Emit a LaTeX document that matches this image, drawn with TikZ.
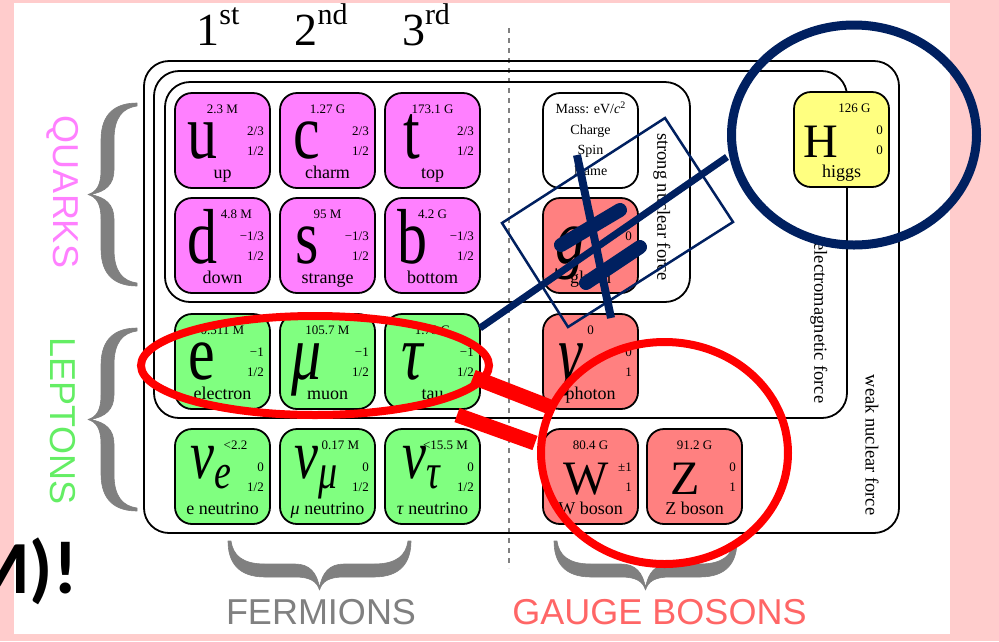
\documentclass[tikz,border=0pt]{standalone}
\usepackage{fontspec}
\usepackage{graphicx}
\setmainfont{Liberation Serif}
\newfontfamily\sansf{Liberation Sans}
\newfontfamily\calib{Carlito}
\definecolor{pinkbg}{RGB}{255,204,204}
\definecolor{quarkfill}{RGB}{255,128,255}
\definecolor{leptonfill}{RGB}{128,255,128}
\definecolor{gaugefill}{RGB}{255,128,128}
\definecolor{higgsfill}{RGB}{255,255,128}
\definecolor{quarkslbl}{RGB}{255,128,255}
\definecolor{leptonslbl}{RGB}{100,238,100}
\definecolor{bracegray}{RGB}{128,128,128}
\definecolor{gaugelbl}{RGB}{255,102,102}
\definecolor{navy}{RGB}{0,32,96}
\definecolor{markred}{RGB}{255,0,0}
\newcommand\fs[1]{\fontsize{#1}{#1}\selectfont}
\newcommand\lsym[1]{\scalebox{1}[1.3]{\fs{60}#1}}
\newcommand\gsym[1]{\scalebox{1}[1.3]{\fs{60}\itshape #1}}
\newcommand\csym[1]{{\fs{48}#1}}
\newcommand\nusym[1]{\raisebox{16pt}{\scalebox{1}[1.3]{\fs{54}\itshape ν}}\raisebox{6pt}{\scalebox{1}[1.3]{\fs{38}\itshape #1}}}
\newcommand\pcell[9]{%
  \node[cellbox, fill=#4, anchor=north west] (#1) at (#2,#3) {};
  \node[symb] (#1-s) at ([xshift=27pt,yshift=-65pt]#1.north west) {#5};
  \node[smalltxt, anchor=base] (#1-m) at ([xshift=47.5pt,yshift=-20pt]#1.north west) {#6};
  \node[smalltxt, anchor=base east] (#1-c) at ([xshift=89pt,yshift=-42pt]#1.north west) {#7};
  \node[smalltxt, anchor=base east] (#1-p) at ([xshift=89pt,yshift=-62pt]#1.north west) {#8};
  \node[nametxt, anchor=base] (#1-n) at ([xshift=47.5pt,yshift=-85pt]#1.north west) {#9};
}
% calligraphic brace outline: tip at local (0,92.5), open ends at local x=49
\newcommand\braceshape{%
  (49,1) .. controls (28,1) and (13,11) .. (13,38) -- (13,68)
  .. controls (13,84) and (8,90) .. (0,92.5)
  .. controls (8,95) and (13,101) .. (13,117) -- (13,147)
  .. controls (13,174) and (28,184) .. (49,184)
  -- (49,181) .. controls (35,179) and (26,170) .. (26,147) -- (26,117)
  .. controls (26,103) and (18,95) .. (2,92.5)
  .. controls (18,90) and (26,82) .. (26,68) -- (26,38)
  .. controls (26,15) and (35,6) .. (49,4) -- cycle}
\begin{document}
\begin{tikzpicture}[x=1pt,y=-1pt,
  cellbox/.style={draw=black, line width=1.8pt, rounded corners=17pt, minimum width=95pt, minimum height=95pt, inner sep=0pt, outer sep=0pt},
  symb/.style={inner sep=0pt, anchor=base},
  smalltxt/.style={inner sep=0pt, font={\fs{13}}},
  nametxt/.style={inner sep=0pt, font={\fs{18}}},
  legtxt/.style={inner sep=0pt, anchor=base, font={\fs{14}}},
  framebox/.style={draw=black, line width=1.8pt, rounded corners=25pt},
  forcetxt/.style={inner sep=0pt, font={\fs{18.5}}, rotate=-90},
  grouptxt/.style={inner sep=0pt, font={\sansf\fs{36}}},
  genlbl/.style={inner sep=0pt, anchor=base, font={\fs{46}}},
  bracefill/.style={fill=bracegray, draw=bracegray, line width=0.6pt, line join=round},
  dashline/.style={draw=bracegray, line width=2pt, dash pattern=on 5pt off 5pt},
  redmark/.style={draw=markred, line width=8pt},
  navymark/.style={draw=navy, line width=9pt},
]
\useasboundingbox (0,0) rectangle (999,641);
\fill[pinkbg] (0,0) rectangle (999,641);
\fill[white] (14,3) rectangle (950,634);

% generation labels
\node[genlbl] (gen1) at (218,45) {1\raisebox{21pt}{\fs{30}st}};
\node[genlbl] (gen2) at (321,45) {2\raisebox{21pt}{\fs{30}nd}};
\node[genlbl] (gen3) at (426,45) {3\raisebox{21pt}{\fs{30}rd}};

% dashed separator
\draw[dashline] (509,28) -- (509,568);

% force frames
\draw[framebox] (144,61) rectangle (899,533);
\draw[framebox] (154,71) rectangle (847,418);
\draw[framebox] (165,82) rectangle (690,302);

\node[forcetxt] (strongf) at (662,207) {strong nuclear force};
\node[forcetxt] (emf) at (819,323) {electromagnetic force};
\node[forcetxt] (weakf) at (872,445) {weak nuclear force};

% quarks
\pcell{u}{175}{93}{quarkfill}{\lsym{u}}{2.3 M}{2/3}{1/2}{up}
\pcell{c}{280}{93}{quarkfill}{\lsym{c}}{1.27 G}{2/3}{1/2}{charm}
\pcell{t}{385}{93}{quarkfill}{\lsym{t}}{173.1 G}{2/3}{1/2}{top}
\pcell{d}{175}{198}{quarkfill}{\lsym{d}}{\hspace*{28pt}4.8 M}{−1/3}{1/2}{down}
\pcell{s}{280}{198}{quarkfill}{\lsym{s}}{95 M}{−1/3}{1/2}{strange}
\pcell{b}{385}{198}{quarkfill}{\lsym{b}}{4.2 G}{−1/3}{1/2}{bottom}
% leptons
\pcell{e}{175}{314}{leptonfill}{\lsym{e}}{0.511 M}{−1}{1/2}{electron}
\pcell{mu}{280}{314}{leptonfill}{\gsym{μ}}{105.7 M}{−1}{1/2}{muon}
\pcell{tau}{385}{314}{leptonfill}{\gsym{τ}}{1.78 G}{−1}{1/2}{tau}
\pcell{nue}{175}{429}{leptonfill}{\hspace*{18pt}\nusym{e}}{\hspace*{26pt}<2.2}{0}{1/2}{e neutrino}
\pcell{numu}{280}{429}{leptonfill}{\hspace*{18pt}\nusym{μ}}{\hspace*{26pt}0.17 M}{0}{1/2}{\textit{μ} neutrino}
\pcell{nutau}{385}{429}{leptonfill}{\hspace*{18pt}\nusym{τ}}{\hspace*{26pt}<15.5 M}{0}{1/2}{\textit{τ} neutrino}
% gauge bosons
\node[cellbox, fill=white, anchor=north west] (legend) at (543,93) {};
\node[legtxt] (leg1) at ([xshift=47.5pt,yshift=-20pt]legend.north west) {Mass: eV/\textit{c}\raisebox{5pt}{\fs{10}2}};
\node[legtxt] (leg2) at ([xshift=47.5pt,yshift=-41pt]legend.north west) {Charge};
\node[legtxt] (leg3) at ([xshift=47.5pt,yshift=-61pt]legend.north west) {Spin};
\node[legtxt] (leg4) at ([xshift=47.5pt,yshift=-82pt]legend.north west) {Name};
\pcell{g}{543}{198}{gaugefill}{\gsym{g}}{0}{0}{1}{gluon}
\pcell{gamma}{543}{314}{gaugefill}{\gsym{γ}}{0}{0}{1}{photon}
\pcell{W}{543}{429}{gaugefill}{\hspace*{32pt}\csym{W}}{80.4 G}{±1}{1}{W boson}
\pcell{Z}{647}{429}{gaugefill}{\hspace*{22pt}\csym{Z}}{91.2 G}{0}{1}{Z boson}
\pcell{H}{794}{92}{higgsfill}{\csym{H}}{\hspace*{26pt}126 G}{0}{0}{higgs}

% group labels and braces
\node[grouptxt, text=quarkslbl, rotate=-90] (quarks) at (63,192) {QUARKS};
\node[grouptxt, text=leptonslbl, rotate=-90] (leptons) at (63,421) {LEPTONS};
\begin{scope}[shift={(88,102)}]
  \filldraw[bracefill] \braceshape;
\end{scope}
\begin{scope}[shift={(88,327)}]
  \filldraw[bracefill] \braceshape;
\end{scope}
\begin{scope}[shift={(227,590)}, rotate=90]
  \filldraw[bracefill] \braceshape;
\end{scope}
\begin{scope}[shift={(553,590)}, rotate=90]
  \filldraw[bracefill] \braceshape;
\end{scope}
\node[grouptxt, text=bracegray] (fermions) at (321,612) {FERMIONS};
\node[grouptxt, text=gaugelbl] (gauge) at (659.5,612) {GAUGE BOSONS};

% annotations
\coordinate (navyA) at (480,328);
\coordinate (navyB) at (727,157);
\draw[navy, line width=7pt] (navyA) -- (navyB);
\draw[navy, line width=2.5pt] (502,223) -- (665,118) -- (733,222) -- (568,327) -- cycle;
\draw[navy, line width=14pt, line cap=round] (561,245) -- (620,210);
\draw[navy, line width=14pt, line cap=round] (586,283) -- (640,247);
\draw[navy, line width=8pt] (577,155) -- (611,318);
\draw[navymark] (854,135) ellipse [x radius=122.5pt, y radius=110pt];
\draw[redmark] (315,365.5) ellipse [x radius=174pt, y radius=49.5pt];
\draw[redmark] (664.5,453) ellipse [x radius=123.5pt, y radius=111pt];
\draw[markred, line width=15pt] (473,377) -- (550,407);
\draw[markred, line width=15pt] (457,415) -- (535,443);

\node[inner sep=0pt, anchor=base west, font={\calib\bfseries\fs{75}}] (smtext) at (-36,593) {M)!};
\end{tikzpicture}
\end{document}
